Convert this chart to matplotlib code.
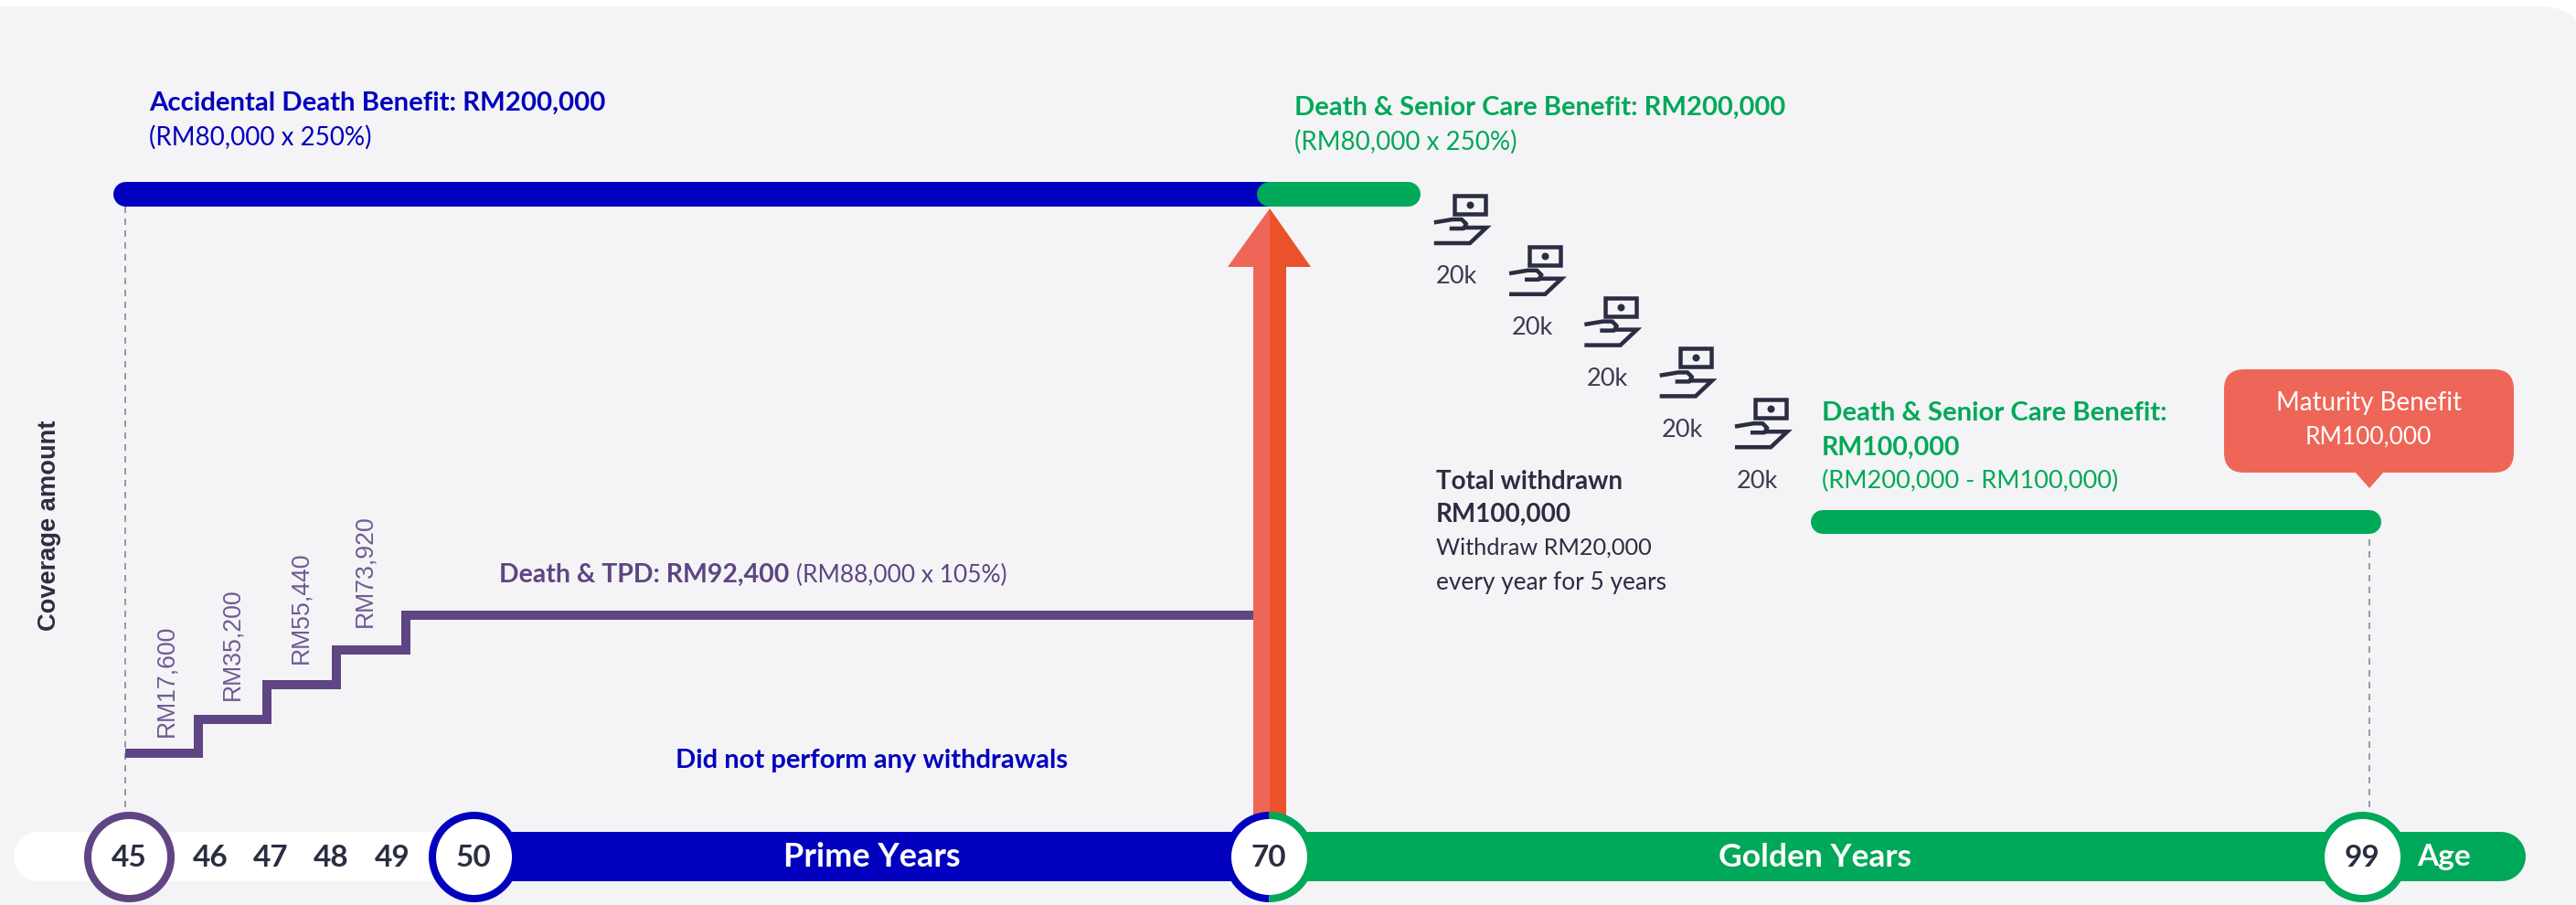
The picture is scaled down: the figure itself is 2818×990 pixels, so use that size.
import numpy as np
import matplotlib
matplotlib.use('Agg')
import matplotlib.pyplot as plt
from matplotlib.markers import MarkerStyle
from matplotlib.patches import FancyBboxPatch, Polygon
from matplotlib.path import Path

BLUE = '#0000BE'
GREEN = '#00A859'
PURPLE = '#5F4583'
RED = '#EE6657'
ORANGE = '#E9522B'
DARK = '#2B2D42'
PANEL = '#F4F4F6'

# chart values
track_ages = [45, 46, 47, 48, 49, 50, 70, 99]
step_ages = [45, 46, 47, 48, 49, 69.6]
step_amounts = [17600, 35200, 55440, 73920, 92400, 92400]
step_labels = ['RM17,600', 'RM35,200', 'RM55,440', 'RM73,920']
accident_ages = [45, 70]
senior_ages = [70, 73.65]
top_amount = 200000
reduced_ages = [84.6, 99]
reduced_amount = 100000
withdrawals = ['20k', '20k', '20k', '20k', '20k']

# the picture is schematic, so both axes are piecewise
age_knots = [40, 45, 46, 47, 48, 49, 50, 70, 99, 105]
age_px = [0, 137, 216.5, 292, 368, 443.5, 518, 1388, 2592, 2818]
amount_knots = [-14000, 0, 17600, 35200, 55440, 73920, 92400, 100000, 200000, 260000]
amount_px = [0, 53, 166, 203.3, 241.3, 279, 316.7, 419, 778.3, 990]

fig = plt.figure(figsize=(28.18, 9.9), dpi=100, facecolor='white')
px = fig.add_axes([0, 0, 1, 1], zorder=0)
px.set_xlim(0, 2818)
px.set_ylim(990, 0)
px.set_axis_off()

ax = fig.add_axes([0, 0, 1, 1], zorder=1)
ax.set_xscale('function', functions=(lambda v: np.interp(v, age_knots, age_px),
                                     lambda v: np.interp(v, age_px, age_knots)))
ax.set_yscale('function', functions=(lambda v: np.interp(v, amount_knots, amount_px),
                                     lambda v: np.interp(v, amount_px, amount_knots)))
ax.set_xlim(40, 105)
ax.set_ylim(-14000, 260000)
ax.set_axis_off()

MAIN = 'Lato'
ARIAL = 'Liberation Sans'


def lw(pixels):
    return pixels * 0.72


def txt(x, y, s, size=19.5, color=DARK, weight='normal', ha='left', family=MAIN, **kw):
    fig.text(x, y, s, transform=px.transData, fontsize=size, color=color, fontweight=weight,
             ha=ha, va='center', family=family, **kw)


# background panel, only its top right corner shows as rounded
px.add_patch(FancyBboxPatch((-100, 7), 2928, 1100, boxstyle='round,pad=0,rounding_size=50',
                            fc=PANEL, ec='none'))

# red arrow
px.add_patch(Polygon([(1389, 228), (1343, 292), (1371, 292), (1371, 900), (1389, 900)],
                     fc=RED, ec='none'))
px.add_patch(Polygon([(1389, 228), (1434, 292), (1407, 292), (1407, 900), (1389, 900)],
                     fc=ORANGE, ec='none'))

# callout
px.add_patch(FancyBboxPatch((2433, 404), 317, 113, boxstyle='round,pad=0,rounding_size=22',
                            fc=RED, ec='none'))
px.add_patch(Polygon([(2576, 516), (2592, 534), (2608, 516)], fc=RED, ec='none'))

# withdrawal icons
for i, label in enumerate(withdrawals):
    x0 = 1571 + i * 82.3
    y0 = 212 + i * 55.8
    px.add_patch(plt.Rectangle((x0 + 20, y0 + 2), 34, 20, fc='none', ec=DARK, lw=lw(4.5)))
    px.scatter([x0 + 37], [y0 + 12], s=lw(8) ** 2, color=DARK, linewidths=0)
    px.plot(x0 + np.array([0, 18, 28, 33, 30, 17]), y0 + np.array([31, 28, 28, 33, 38, 38]),
            color=DARK, lw=lw(4.5), solid_joinstyle='round')
    px.plot(x0 + np.array([0, 37, 55, 33]), y0 + np.array([54, 54, 37, 37]),
            color=DARK, lw=lw(4.5), solid_joinstyle='miter')
    txt(x0, 302 + i * 56, label, size=19.5, color='#3A3C50')

# dashed guides
ax.plot([45, 45], [8400, top_amount], color='#9A9AA2', lw=lw(2), dashes=(3.5, 3), zorder=1)
ax.plot([99, 99], [8400, reduced_amount], color='#9A9AA2', lw=lw(2), dashes=(3.5, 3), zorder=1)

# benefit bars
ax.plot(accident_ages, [top_amount] * 2, color=BLUE, lw=lw(27), solid_capstyle='round', zorder=2)
ax.plot(senior_ages, [top_amount] * 2, color=GREEN, lw=lw(27), solid_capstyle='round', zorder=3)
ax.plot(reduced_ages, [reduced_amount] * 2, color=GREEN, lw=lw(26), solid_capstyle='round', zorder=2)

# stepped death & TPD cover
ax.step(step_ages, step_amounts, where='post', color=PURPLE, lw=lw(10),
        solid_joinstyle='miter', solid_capstyle='butt', zorder=2)

# age track
ax.plot([41.53, 50], [0, 0], color='white', lw=lw(54), solid_capstyle='round', zorder=2)
ax.plot([50, 70], [0, 0], color=BLUE, lw=lw(54), solid_capstyle='butt', zorder=2)
ax.plot([70, 102.82], [0, 0], color=GREEN, lw=lw(54), solid_capstyle='round', zorder=2)

# age circles
outer = lw(99) ** 2
inner = lw(83) ** 2
half = Path.unit_circle_righthalf()
left_half = MarkerStyle(Path(-half.vertices, half.codes))
ax.scatter([45.05], [0], s=outer, color=PURPLE, linewidths=0, zorder=3)
ax.scatter([50], [0], s=outer, color=BLUE, linewidths=0, zorder=3)
ax.scatter([70], [0], s=outer, color=BLUE, marker=left_half, linewidths=0, zorder=3)
ax.scatter([70], [0], s=outer, color=GREEN, marker=MarkerStyle(half), linewidths=0, zorder=3)
ax.scatter([98.8], [0], s=outer, color=GREEN, linewidths=0, zorder=3)
ax.scatter([45.05, 50, 70, 98.8], [0] * 4, s=inner, color='white', linewidths=0, zorder=4)

for age, x in zip(track_ages, [141, 230, 296, 362, 429, 518, 1388, 2584]):
    txt(x, 938, str(age), size=24, weight='bold', ha='center')

txt(954, 938, 'Prime Years', size=26, color='white', weight='bold', ha='center')
txt(1986, 938, 'Golden Years', size=25.5, color='white', weight='bold', ha='center')
txt(2674, 937, 'Age', size=24, color='white', weight='bold', ha='center')

# benefit text
txt(163, 113, 'Accidental Death Benefit: RM200,000', size=21.2, color=BLUE, weight='bold')
txt(163, 150, '(RM80,000 x 250%)', size=20, color=BLUE)
txt(1416, 118, 'Death & Senior Care Benefit: RM200,000', size=21, color=GREEN, weight='bold')
txt(1416, 155, '(RM80,000 x 250%)', size=20, color=GREEN)
txt(1993, 452, 'Death & Senior Care Benefit:', size=21.2, color=GREEN, weight='bold')
txt(1993, 490, 'RM100,000', size=20.5, color=GREEN, weight='bold')
txt(1993, 526, '(RM200,000 - RM100,000)', color=GREEN)
txt(2591, 441, 'Maturity Benefit', size=20, color='white', ha='center')
txt(2591, 478, 'RM100,000', size=19, color='white', ha='center')
txt(1571, 527, 'Total withdrawn', size=20, weight='bold')
txt(1571, 563, 'RM100,000', size=20, weight='bold')
txt(1571, 599, 'Withdraw RM20,000', size=18.2)
txt(1571, 637, 'every year for 5 years', size=18.9)
txt(546, 629, 'Death & TPD: RM92,400', size=20.5, color=PURPLE, weight='bold')
txt(871, 629, '(RM88,000 x 105%)', size=19, color=PURPLE)
txt(954, 832, 'Did not perform any withdrawals', size=21, color=BLUE, weight='bold', ha='center')

txt(54, 575, 'Coverage amount', size=19.6, weight='bold', ha='center', family=ARIAL, rotation=90)
for label, x, y in zip(step_labels, [182, 254, 329, 399], [806, 766, 726, 686]):
    fig.text(x, y, label, transform=px.transData, fontsize=19.2, color='#6F5B95', family=ARIAL,
             rotation=90, ha='center', va='bottom')

fig.savefig('out.png', dpi=100)
